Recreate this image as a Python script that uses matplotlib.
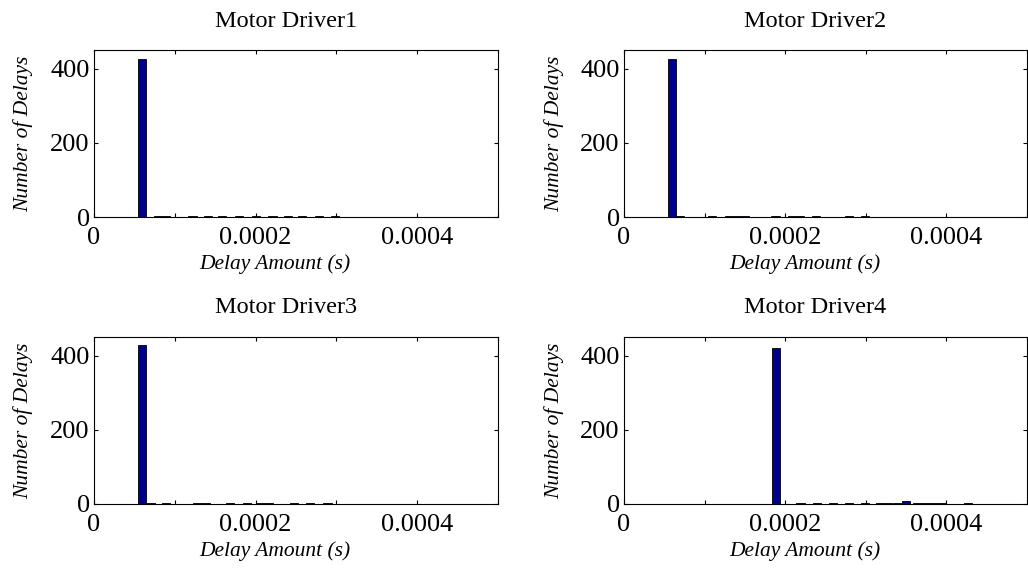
import matplotlib
matplotlib.use("Agg")
import matplotlib.pyplot as plt
from matplotlib.ticker import FixedLocator, FixedFormatter

titles = ["Motor Driver1", "Motor Driver2", "Motor Driver3", "Motor Driver4"]
xlabel = "Delay Amount (s)"
ylabel = "Number of Delays"

# bar centres (s) and counts
centers1 = [5.93e-5, 7.9e-5, 8.9e-5, 1.22e-4, 1.41e-4, 1.59e-4, 1.80e-4, 2.00e-4,
            2.21e-4, 2.40e-4, 2.58e-4, 2.79e-4, 2.98e-4]
counts1 = [427, 2, 2, 2, 2, 2, 2, 2, 2, 2, 2, 2, 2]

centers2 = [5.95e-5, 7.0e-5, 1.09e-4, 1.30e-4, 1.40e-4, 1.50e-4, 1.88e-4, 2.08e-4,
            2.18e-4, 2.38e-4, 2.79e-4, 2.99e-4]
counts2 = [427, 2, 3, 2, 2, 2, 2, 2, 2, 2, 2, 2]

centers3 = [5.93e-5, 7.0e-5, 8.9e-5, 1.28e-4, 1.38e-4, 1.68e-4, 1.89e-4, 2.05e-4,
            2.16e-4, 2.48e-4, 2.67e-4, 2.89e-4]
counts3 = [427, 2, 2, 2, 2, 2, 2, 2, 2, 2, 2, 2]

centers4 = [1.888e-4, 2.19e-4, 2.39e-4, 2.59e-4, 2.79e-4, 2.99e-4, 3.18e-4, 3.28e-4,
            3.39e-4, 3.50e-4, 3.63e-4, 3.73e-4, 3.84e-4, 3.94e-4, 4.27e-4]
counts4 = [421, 2, 2, 2, 2, 2, 2, 2, 3, 7, 2, 2, 2, 2, 2]

x_ticks = [0, 1e-4, 2e-4, 3e-4, 4e-4, 5e-4]
x_ticklabels = ["0", "", "0.0002", "", "0.0004", ""]
y_ticks = [0, 200, 400]
y_ticklabels = ["0", "200", "400"]

bin_width = 1.0e-5
bar_color = "#000090"

plt.rcParams["font.family"] = ["Liberation Serif", "DejaVu Serif"]

fig = plt.figure(figsize=(10.28, 5.76), dpi=100)
positions = [
    [0.0914, 0.623, 0.393, 0.290],
    [0.607, 0.623, 0.392, 0.290],
    [0.0914, 0.125, 0.393, 0.290],
    [0.607, 0.125, 0.392, 0.290],
]
data = [(centers1, counts1), (centers2, counts2), (centers3, counts3), (centers4, counts4)]

for pos, title, (cx, cy) in zip(positions, titles, data):
    ax = fig.add_axes(pos)
    ax.bar(cx, cy, width=bin_width, color=bar_color, edgecolor="black", linewidth=0.6)
    ax.set_xlim(0, 5e-4)
    ax.set_ylim(0, 450)
    ax.xaxis.set_major_locator(FixedLocator(x_ticks))
    ax.xaxis.set_major_formatter(FixedFormatter(x_ticklabels))
    ax.yaxis.set_major_locator(FixedLocator(y_ticks))
    ax.yaxis.set_major_formatter(FixedFormatter(y_ticklabels))
    ax.tick_params(direction="in", top=True, right=True, length=3, width=0.8,
                   labelsize=19)
    ax.tick_params(axis="x", pad=7)
    ax.tick_params(axis="y", pad=3)
    for s in ax.spines.values():
        s.set_linewidth(0.8)
    ax.set_title(title, fontsize=17.5, pad=17, x=0.475)
    ax.set_xlabel(xlabel, fontsize=15.5, style="italic", labelpad=4)
    ax.xaxis.label.set_x(0.448)
    ax.set_ylabel(ylabel, fontsize=15.5, style="italic", labelpad=12)

fig.savefig("out.png", dpi=100)
